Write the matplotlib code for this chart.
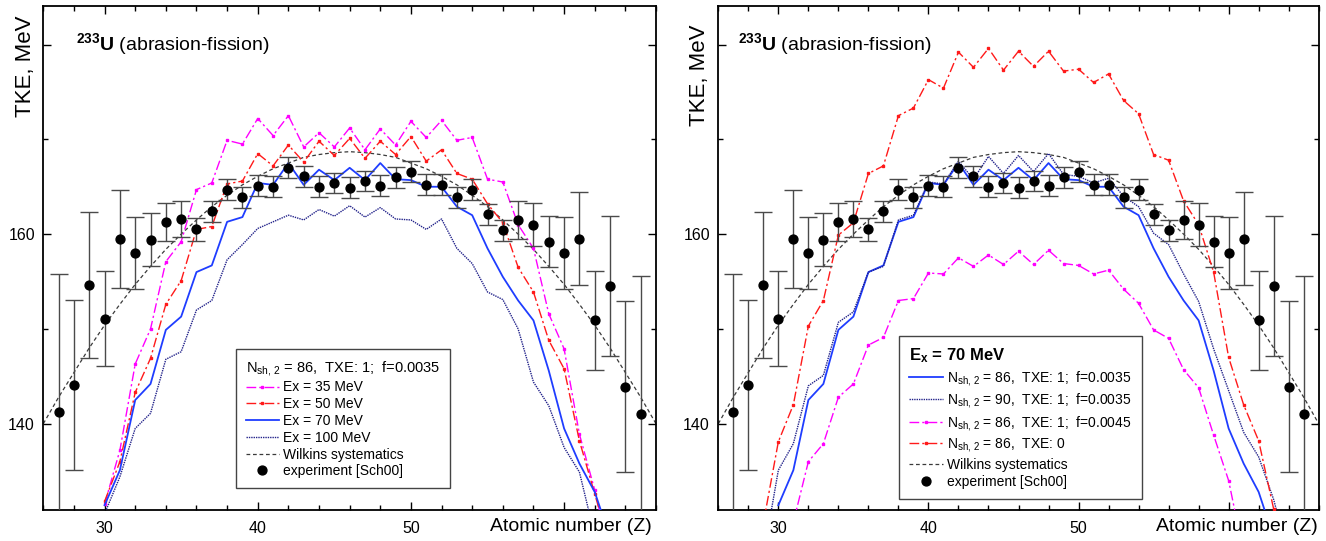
import matplotlib
matplotlib.use("Agg")
import matplotlib.pyplot as plt
from matplotlib.ticker import FixedLocator, MultipleLocator

plt.rcParams.update({
    "font.family": ["Liberation Sans", "DejaVu Sans"],
    "mathtext.fontset": "custom",
    "mathtext.rm": "Liberation Sans",
    "mathtext.it": "Liberation Sans:italic",
    "mathtext.bf": "Liberation Sans:bold",
})

# ---- experimental TKE, 233U abrasion-fission [Sch00] ----
z_exp = list(range(27, 66))
tke_exp = [141.2, 144.1, 154.6, 151.1, 159.5, 158.0, 159.4, 161.3, 161.6, 160.5,
           162.4, 164.7, 163.9, 165.1, 165.0, 167.0, 166.1, 165.0, 165.4, 164.9,
           165.6, 165.1, 166.0, 166.6, 165.2, 165.2, 163.9, 164.7, 162.1, 160.4,
           161.5, 161.0, 159.2, 158.0, 159.5, 150.9, 154.5, 143.9, 141.0]
err_exp = [14.6, 9.0, 7.7, 5.0, 5.2, 3.8, 2.8, 2.0, 1.9, 1.2,
           1.1, 1.1, 1.1, 1.1, 1.1, 1.1, 1.1, 1.1, 1.1, 1.1,
           1.1, 1.1, 1.1, 1.1, 1.1, 1.1, 1.1, 1.1, 1.1, 1.1,
           2.0, 2.3, 2.7, 3.8, 4.9, 5.2, 7.4, 9.0, 14.6]

# ---- Wilkins systematics ----
z_wilk = list(range(26, 67))
tke_wilk = [140.0, 142.8, 145.4, 148.0, 150.4, 152.6, 154.7, 156.6, 158.4, 160.0,
            161.5, 162.9, 164.1, 165.2, 166.1, 166.9, 167.5, 168.1, 168.4, 168.6,
            168.7, 168.6, 168.4, 168.1, 167.5, 166.9, 166.1, 165.2, 164.1, 162.9,
            161.5, 160.0, 158.4, 156.6, 154.7, 152.6, 150.4, 148.0, 145.4, 142.8,
            140.0]

# ---- calculations, N_sh,2 = 86, TXE: 1, f = 0.0035, various Ex ----
z_calc = list(range(30, 64))
tke_ex35 = [131.5, 137.2, 146.3, 150.0, 157.1, 159.2, 164.7, 165.4, 169.9, 169.5,
            172.2, 170.4, 172.5, 169.2, 170.7, 169.2, 171.2, 168.9, 171.1, 169.4,
            171.9, 170.2, 172.0, 169.9, 170.2, 165.8, 165.5, 161.0, 158.5, 151.6,
            147.9, 138.9, 133.0, 126.0]
tke_ex50 = [131.8, 136.0, 143.3, 146.9, 152.6, 155.1, 160.5, 160.8, 165.3, 165.6,
            168.5, 167.2, 169.4, 167.6, 169.8, 168.3, 170.1, 168.0, 169.8, 168.4,
            170.3, 167.7, 168.9, 166.4, 165.8, 163.2, 161.2, 156.5, 153.9, 148.8,
            145.8, 138.2, 132.6, 127.0]
tke_ex70 = [131.4, 135.1, 142.5, 144.2, 149.9, 151.3, 156.0, 156.7, 161.3, 161.8,
            165.4, 165.2, 167.5, 165.2, 166.8, 165.7, 167.0, 165.7, 167.5, 165.8,
            165.7, 165.0, 165.0, 162.9, 162.0, 158.5, 155.5, 153.0, 150.9, 145.6,
            139.5, 135.8, 132.8, 128.0]
tke_ex100 = [130.5, 134.4, 139.5, 141.1, 146.8, 147.6, 152.0, 153.0, 157.3, 158.9,
             160.6, 161.3, 162.0, 161.5, 162.6, 161.9, 163.0, 161.8, 162.8, 161.6,
             161.5, 160.5, 161.6, 158.5, 156.9, 153.9, 153.1, 150.0, 144.4, 141.9,
             137.5, 134.9, 128.2, 122.0]

# ---- calculations at Ex = 70 MeV, parameter variations ----
z_n90 = list(range(29, 65))
tke_n90 = [126.0, 135.1, 137.9, 144.0, 145.1, 150.7, 151.8, 156.0, 156.6, 161.5,
           162.0, 165.5, 165.3, 167.7, 165.8, 168.2, 166.4, 168.3, 166.6, 168.5,
           166.3, 166.1, 165.4, 165.9, 164.0, 162.9, 160.1, 158.9, 155.8, 152.9,
           147.9, 143.5, 139.1, 136.5, 132.0, 126.0]
z_f45 = list(range(31, 62))
tke_f45 = [129.6, 136.0, 137.9, 142.8, 144.2, 148.3, 149.1, 153.0, 153.2, 155.9,
           155.8, 157.5, 156.6, 157.8, 156.8, 158.2, 156.8, 158.3, 156.9, 156.7,
           155.8, 156.2, 154.2, 152.7, 149.9, 149.0, 145.7, 143.8, 138.8, 134.0,
           126.3]
z_txe0 = list(range(29, 64))
tke_txe0 = [129.5, 138.1, 142.0, 150.3, 153.0, 159.9, 161.2, 166.4, 167.2, 172.5,
            173.3, 176.3, 175.4, 179.2, 177.6, 179.6, 177.3, 179.3, 177.7, 179.3,
            177.2, 177.4, 176.0, 176.9, 174.1, 172.7, 168.4, 167.8, 163.5, 161.0,
            156.0, 147.0, 142.0, 138.2, 131.0]

MAGENTA = "#ff00ff"
RED = "#ff1a1a"
BLUE = "#1f3dff"
NAVY = "#22228a"
GREY = "#3a3a3a"

DASHDOT = (0, (7, 2.2, 1.6, 2.2))
NSH = r"N$_{\mathregular{sh,\,2}}$"

fig = plt.figure(figsize=(13.26, 5.41), dpi=100)
W, H = 1326.0, 541.0
axL = fig.add_axes([43.3 / W, 31 / H, 612.7 / W, 504.3 / H])
axR = fig.add_axes([718.3 / W, 31 / H, 600.4 / W, 504.3 / H])


def style_axes(ax):
    ax.set_xlim(26, 66)
    ax.set_ylim(130.9, 184.1)
    ax.xaxis.set_major_locator(FixedLocator([30, 40, 50, 60]))
    ax.xaxis.set_minor_locator(MultipleLocator(2))
    ax.set_xticklabels(["30", "40", "50", ""])
    ax.yaxis.set_major_locator(FixedLocator([140, 160, 180]))
    ax.yaxis.set_minor_locator(FixedLocator([150, 170]))
    ax.set_yticklabels(["140", "160", ""])
    ax.tick_params(which="both", direction="in", top=True, right=True, width=1.0)
    ax.tick_params(which="major", length=6)
    ax.tick_params(which="minor", length=3.6)
    ax.tick_params(axis="x", labelsize=11.5, pad=8)
    ax.tick_params(axis="y", labelsize=11.5, pad=6)
    for s in ax.spines.values():
        s.set_linewidth(1.3)


def draw_common(ax):
    ax.plot(z_wilk, tke_wilk, color=GREY, lw=0.9, ls=(0, (3, 2.2)), zorder=2,
            label="Wilkins systematics")
    ax.errorbar(z_exp, tke_exp, yerr=err_exp, fmt="none", ecolor="#4a4a4a",
                elinewidth=1.0, capsize=6.5, capthick=1.0, zorder=3)
    ax.plot(z_exp, tke_exp, "o", color="black", ms=6.4, zorder=4, ls="none",
            label="experiment [Sch00]")


def dashdot(ax, z, v, color, label):
    ax.plot(z, v, color=color, lw=1.0, ls=DASHDOT, marker="s", ms=1.7,
            zorder=3, label=label)


# ---------------- left panel: excitation energy ----------------
style_axes(axL)
dashdot(axL, z_calc, tke_ex35, MAGENTA, "Ex = 35 MeV")
dashdot(axL, z_calc, tke_ex50, RED, "Ex = 50 MeV")
axL.plot(z_calc, tke_ex70, color=BLUE, lw=1.3, zorder=3, label="Ex = 70 MeV")
axL.plot(z_calc, tke_ex100, color=NAVY, lw=1.0, ls=(0, (1, 0.7)), zorder=3,
         label="Ex = 100 MeV")
draw_common(axL)

# ---------------- right panel: model parameters ----------------
style_axes(axR)
axR.plot(z_calc, tke_ex70, color=BLUE, lw=1.3, zorder=3,
         label=NSH + " = 86,  TXE: 1;  f=0.0035")
axR.plot(z_n90, tke_n90, color=NAVY, lw=1.0, ls=(0, (1, 0.7)), zorder=3,
         label=NSH + " = 90,  TXE: 1;  f=0.0035")
dashdot(axR, z_f45, tke_f45, MAGENTA, NSH + " = 86,  TXE: 1;  f=0.0045")
dashdot(axR, z_txe0, tke_txe0, RED, NSH + " = 86,  TXE: 0")
draw_common(axR)

leg_kw = dict(loc="lower left", frameon=True, fancybox=False, framealpha=1,
              edgecolor="#444444", handlelength=2.4, handletextpad=0.3,
              numpoints=1, borderaxespad=0, alignment="left")

legL = axL.legend(fontsize=10, title=NSH + " = 86,  TXE: 1;  f=0.0035",
                  title_fontsize=10.5, labelspacing=0.2, borderpad=0.7,
                  bbox_to_anchor=(0.3145, 0.0436), **leg_kw)
legL.get_frame().set_linewidth(1.0)

legR = axR.legend(fontsize=10, title=r"E$_{\mathbf{x}}$ = 70 MeV",
                  title_fontproperties={"weight": "bold", "size": 12},
                  labelspacing=0.25, borderpad=0.75,
                  bbox_to_anchor=(0.301, 0.021), **leg_kw)
legR.get_frame().set_linewidth(1.0)

for ax, tx in ((axL, 0.0534), (axR, 0.0323)):
    ax.text(tx, 0.9124, r"$^{\mathbf{233}}\mathbf{U}$ (abrasion-fission)",
            transform=ax.transAxes, fontsize=14, ha="left", va="baseline")

# axis titles
fig.text(25 / W, 1 - 66 / H, "TKE, MeV", rotation=90, fontsize=16,
         ha="center", va="center")
fig.text(700 / W, 1 - 75 / H, "TKE, MeV", rotation=90, fontsize=16,
         ha="center", va="center")
fig.text(652 / W, 1 - 531 / H, "Atomic number (Z)", fontsize=14,
         ha="right", va="baseline")
fig.text(1318 / W, 1 - 531 / H, "Atomic number (Z)", fontsize=14,
         ha="right", va="baseline")

fig.savefig("out.png", dpi=100)
